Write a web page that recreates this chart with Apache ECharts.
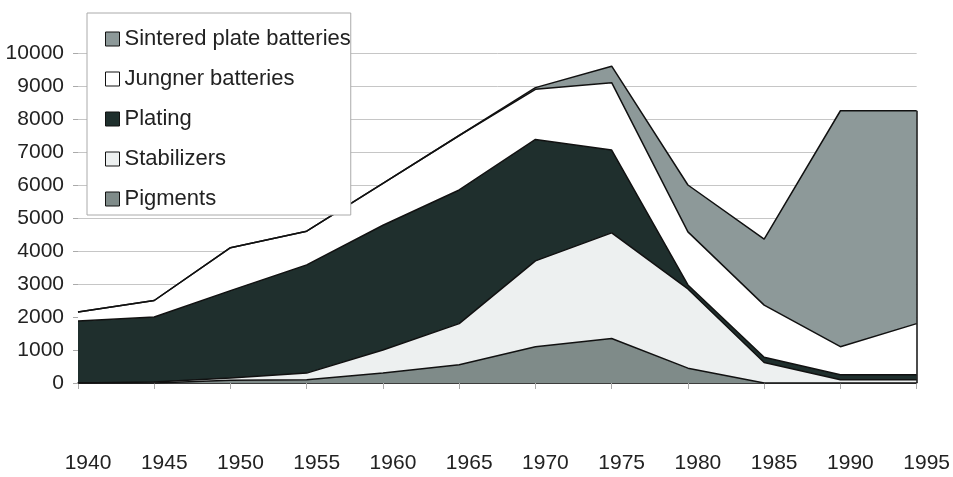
<!DOCTYPE html>
<html>
<head>
<meta charset="utf-8">
<script src="https://cdn.jsdelivr.net/npm/echarts@6/dist/echarts.min.js"></script>
<style>
  html, body { margin: 0; padding: 0; background: #fff; }
  #chart { width: 953px; height: 477px; }
</style>
</head>
<body>
<div id="chart"></div>
<script>
const years = ['1940', '1945', '1950', '1955', '1960', '1965', '1970', '1975', '1980', '1985', '1990', '1995'];
// stacked from the bottom up
const pigments    = [0, 0, 80, 100, 300, 550, 1100, 1350, 450, 0, 0, 0];
const stabilizers = [0, 30, 70, 200, 700, 1250, 2600, 3200, 2400, 620, 100, 100];
const plating     = [1880, 1970, 2650, 3280, 3780, 4050, 3680, 2510, 120, 160, 150, 150];
const jungner     = [270, 500, 1300, 1020, 1270, 1650, 1520, 2040, 1610, 1580, 850, 1550];
const sintered    = [0, 0, 0, 0, 0, 0, 50, 500, 1420, 2000, 7150, 6450];
const yTicks = { min: 0, max: 10000, interval: 1000 };

const font = 'Liberation Sans, Arial, sans-serif';
const last = years.length - 1;
const totalLast = [pigments, stabilizers, plating, jungner, sintered]
  .reduce((s, arr) => s + arr[last], 0);

function area(name, data, color) {
  return {
    name, type: 'line', stack: 'total', data,
    symbol: 'none',
    lineStyle: { color: '#111', width: 1.5 },
    areaStyle: { color, opacity: 1 },
    itemStyle: { color, borderColor: '#111', borderWidth: 1 },
    emphasis: { disabled: true },
  };
}

const series = [
  area('Pigments', pigments, '#7f8b89'),
  area('Stabilizers', stabilizers, '#edf0f0'),
  area('Plating', plating, '#1f2f2d'),
  area('Jungner batteries', jungner, '#ffffff'),
  area('Sintered plate batteries', sintered, '#8d9999'),
];
// right-hand edge of the stacked block
series[4].markLine = {
  silent: true, symbol: 'none', label: { show: false },
  lineStyle: { color: '#111', width: 1.5, type: 'solid' },
  data: [[{ coord: [years[last], 0] }, { coord: [years[last], totalLast] }]],
};

const chart = echarts.init(document.getElementById('chart'));
chart.setOption({
  animation: false,
  backgroundColor: '#fff',
  grid: { left: 78, right: 36, top: 53, bottom: 94 },
  legend: {
    data: ['Sintered plate batteries', 'Jungner batteries', 'Plating', 'Stabilizers', 'Pigments'],
    orient: 'vertical', left: 87, top: 13,
    padding: [15, 0, 5, 18],
    itemWidth: 14, itemHeight: 14, itemGap: 18, itemTextGap: 4,
    icon: 'rect',
    backgroundColor: '#fff', borderColor: '#aaa', borderWidth: 1,
    textStyle: { fontFamily: font, fontSize: 22, color: '#222', lineHeight: 21 },
    itemStyle: { borderColor: '#111', borderWidth: 1 },
    selectedMode: false,
  },
  xAxis: {
    type: 'category', data: years, boundaryGap: false,
    axisLine: { lineStyle: { color: '#111', width: 1.5 } },
    axisTick: { show: true, length: 6, lineStyle: { color: '#aaa' } },
    axisLabel: { margin: 70, fontFamily: font, fontSize: 21, color: '#222', padding: [0, 0, 0, 20] },
    splitLine: { show: false },
  },
  yAxis: {
    type: 'value', min: yTicks.min, max: yTicks.max, interval: yTicks.interval,
    axisLine: { show: false },
    axisTick: { show: true, length: 5, lineStyle: { color: '#aaa' } },
    axisLabel: { margin: 14, fontFamily: font, fontSize: 21, color: '#222', formatter: (v) => String(v) },
    splitLine: { lineStyle: { color: '#c6c6c6', width: 1 } },
  },
  series,
});
</script>
</body>
</html>
